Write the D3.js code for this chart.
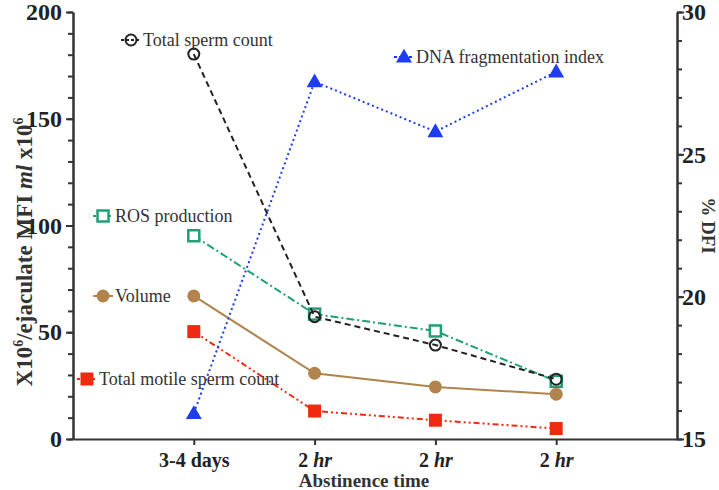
<!DOCTYPE html>
<html><head><meta charset="utf-8">
<script src="https://cdn.jsdelivr.net/npm/d3@7"></script>
<style>
html,body{margin:0;padding:0;background:#fff;}
svg{display:block;}
svg text{font-family:"Liberation Serif","Times New Roman",Times,"DejaVu Serif",serif !important;}
</style></head>
<body>
<svg id="chart" width="719" height="490"></svg>
<script>
const categories = ["3-4 days", "2 hr", "2 hr", "2 hr"];
const totalSpermCount = [180.3, 57.3, 44, 28];
const rosProduction = [95.2, 58.5, 50.6, 27];
const volume = [67, 30.8, 24.4, 21];
const totalMotileSpermCount = [50.3, 13.1, 8.8, 4.9];
const dnaFragmentationIndex = [15.9, 27.55, 25.8, 27.9];
const leftTicks = [0, 50, 100, 150, 200];
const rightTicks = [15, 20, 25, 30];

const svg = d3.select("#chart");
const L = 73, R = 677, T = 12, B = 439;
const x = d3.scaleLinear().domain([0, 5]).range([L, R]);
const yL = d3.scaleLinear().domain([0, 200]).range([B, T]);
const yR = d3.scaleLinear().domain([15, 30]).range([B, T]);
const axisColor = "#333";

// axes
const gx = svg.append("g").attr("transform", `translate(0,${B})`)
  .call(d3.axisBottom(x).tickValues([1,2,3,4]).tickSize(6).tickSizeOuter(0).tickFormat(d => categories[d-1]));
gx.selectAll("text").each(function(d){
  const t = d3.select(this); const s = categories[d-1]; t.text(null);
  const m = s.match(/^(\d+) (hr)$/);
  if (m) { t.append("tspan").text(m[1] + " "); t.append("tspan").attr("font-style","italic").text(m[2]); }
  else t.text(s);
}).attr("dy", null).attr("y", 28).attr("font-size", 20).attr("font-weight", "bold").attr("fill", "#222");

svg.append("g").attr("transform", `translate(${L},0)`)
  .call(d3.axisLeft(yL).tickValues(d3.range(0, 201, 10)).tickSize(5).tickSizeOuter(0).tickFormat(""));
const gy = svg.append("g").attr("transform", `translate(${L},0)`)
  .call(d3.axisLeft(yL).tickValues(leftTicks).tickSize(7).tickSizeOuter(0));
gy.selectAll("text").attr("font-size", 24).attr("font-weight", "bold").attr("fill", "#222").attr("x", -11);

svg.append("g").attr("transform", `translate(${R},0)`)
  .call(d3.axisRight(yR).tickValues(d3.range(15, 30.01, 1)).tickSize(5).tickSizeOuter(0).tickFormat(""));
const gr = svg.append("g").attr("transform", `translate(${R},0)`)
  .call(d3.axisRight(yR).tickValues(rightTicks).tickSize(7).tickSizeOuter(0));
gr.selectAll("text").attr("font-size", 24).attr("font-weight", "bold").attr("fill", "#222").attr("x", 5);

svg.selectAll(".domain").attr("stroke", axisColor).attr("stroke-width", 2);
svg.selectAll(".tick line").attr("stroke", axisColor).attr("stroke-width", 2);

// axis titles
const lt = svg.append("text").attr("transform", `translate(32,252) rotate(-90)`)
  .attr("text-anchor", "middle").attr("font-size", 23).attr("font-weight", "bold").attr("fill", "#333");
lt.append("tspan").text("X10");
lt.append("tspan").attr("font-size", 14).attr("dy", -9).text("6");
lt.append("tspan").attr("dy", 9).text("/ejaculate MFI ");
lt.append("tspan").attr("font-style", "italic").text("ml");
lt.append("tspan").text(" x10");
lt.append("tspan").attr("font-size", 14).attr("dy", -9).text("6");

svg.append("text").attr("transform", `translate(702,${(T+B)/2}) rotate(90)`)
  .attr("text-anchor", "middle").attr("font-size", 19).attr("font-weight", "bold").attr("fill", "#333").text("% DFI");

svg.append("text").attr("x", 364).attr("y", 487).attr("text-anchor", "middle")
  .attr("font-size", 19).attr("font-weight", "bold").attr("fill", "#333").text("Abstinence time");

// series
const series = [
  {name:"ROS production", vals: rosProduction, y: yL, color:"#1f9e78", dash:"8,3,2,3", marker:"opensquare", legend:[103,216]},
  {name:"Total sperm count", vals: totalSpermCount, y: yL, color:"#222", dash:"6,4", marker:"opencircle", legend:[131,40]},
  {name:"Volume", vals: volume, y: yL, color:"#b0844c", dash:null, marker:"circle", legend:[103,296]},
  {name:"Total motile sperm count", vals: totalMotileSpermCount, y: yL, color:"#f02a10", dash:"6,3,2,3,2,3", marker:"square", legend:[87,379]},
  {name:"DNA fragmentation index", vals: dnaFragmentationIndex, y: yR, color:"#1e3cf0", dash:"2,3", marker:"triangle", legend:[404,57]}
];

function drawMarker(g, type, cx, cy, color){
  if (type === "opencircle") {
    g.append("circle").attr("cx", cx).attr("cy", cy).attr("r", 5.5).attr("fill", "none").attr("stroke", color).attr("stroke-width", 2);
  } else if (type === "circle") {
    g.append("circle").attr("cx", cx).attr("cy", cy).attr("r", 6.5).attr("fill", color);
  } else if (type === "opensquare") {
    g.append("rect").attr("x", cx-5.5).attr("y", cy-5.5).attr("width", 11).attr("height", 11).attr("fill", "#fff").attr("stroke", color).attr("stroke-width", 2.5);
  } else if (type === "square") {
    g.append("rect").attr("x", cx-6.5).attr("y", cy-6.5).attr("width", 13).attr("height", 13).attr("fill", color);
  } else if (type === "triangle") {
    g.append("path").attr("d", d3.symbol().type(d3.symbolTriangle).size(110)()).attr("transform", `translate(${cx},${cy+1})`).attr("fill", color);
  }
}

series.forEach(s => {
  const g = svg.append("g");
  const line = d3.line().x((d,i) => x(i+1)).y(d => s.y(d));
  g.append("path").datum(s.vals).attr("d", line).attr("fill", "none").attr("stroke", s.color)
    .attr("stroke-width", 2).attr("stroke-dasharray", s.dash);
  s.vals.forEach((v,i) => drawMarker(g, s.marker, x(i+1), s.y(v), s.color));
  const [lx, ly] = s.legend;
  g.append("line").attr("x1", lx-10).attr("x2", lx+10).attr("y1", ly).attr("y2", ly).attr("stroke", s.color).attr("stroke-width", 2)
    .attr("stroke-dasharray", s.dash ? "3,2" : null);
  drawMarker(g, s.marker, lx, ly, s.color);
  g.append("text").attr("x", lx + 12).attr("y", ly + 6).attr("font-size", 18).attr("fill", "#333").text(s.name);
});
</script>
</body></html>
